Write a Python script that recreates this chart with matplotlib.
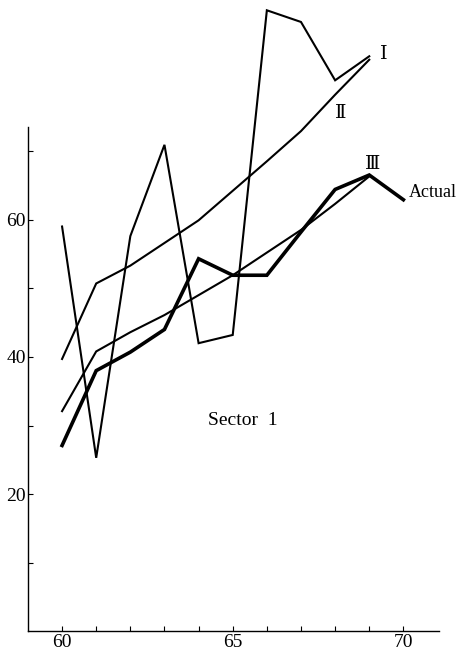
import matplotlib
matplotlib.use("Agg")
import matplotlib.pyplot as plt
from matplotlib.ticker import FixedLocator, NullFormatter

# Sector 1 projections vs. actual, by year
years = [60, 61, 62, 63, 64, 65, 66, 67, 68, 69]
proj_1 = [59.0, 25.3, 57.6, 70.9, 42.0, 43.2, 90.5, 88.8, 80.3, 83.8]
proj_2 = [39.7, 50.7, 53.3, 56.6, 59.9, 64.2, 68.5, 72.9, 78.2, 83.3]
proj_3 = [32.1, 40.8, 43.6, 46.1, 49.0, 51.9, 55.2, 58.5, 62.3, 66.3]
actual_years = [60, 61, 62, 63, 64, 65, 66, 67, 68, 69, 70]
actual = [27.1, 38.0, 40.7, 44.0, 54.3, 51.9, 51.9, 58.2, 64.4, 66.5, 62.9]

SERIF = ["Liberation Serif", "DejaVu Serif"]
ROMAN = ["DejaVu Serif", "Noto Sans CJK JP"]

fig = plt.figure(figsize=(4.58, 6.51), dpi=100)
ax = fig.add_axes([0.061, 0.030, 0.898, 0.970])
ax.set_xlim(59, 71.05)
ax.set_ylim(0, 92)

thin = dict(color="black", lw=1.5, solid_joinstyle="miter")
ax.plot(years, proj_1, **thin)
ax.plot(years, proj_2, **thin)
ax.plot(years, proj_3, **thin)
ax.plot(actual_years, actual, color="black", lw=2.6, solid_joinstyle="miter")

ax.text(69.3, 84.2, "Ⅰ", family=ROMAN, fontsize=14, va="center", ha="left")
ax.text(68.15, 75.6, "Ⅱ", family=ROMAN, fontsize=14, va="center", ha="center")
ax.text(69.1, 68.1, "Ⅲ", family=ROMAN, fontsize=14, va="center", ha="center")
ax.text(70.15, 64.0, "Actual", family=SERIF, fontsize=13, va="center", ha="left")
ax.text(65.3, 30.8, "Sector  1", family=SERIF, fontsize=14, va="center", ha="center")

for side in ("top", "right"):
    ax.spines[side].set_visible(False)
ax.spines["left"].set_bounds(0, 73.5)
ax.spines["left"].set_linewidth(1.0)
ax.spines["bottom"].set_linewidth(1.0)

ax.xaxis.set_major_locator(FixedLocator([60, 65, 70]))
ax.xaxis.set_minor_locator(FixedLocator([61, 62, 63, 64, 66, 67, 68, 69]))
ax.yaxis.set_major_locator(FixedLocator([20, 40, 60]))
ax.yaxis.set_minor_locator(FixedLocator([10, 30, 50, 70]))
ax.yaxis.set_minor_formatter(NullFormatter())
ax.tick_params(which="both", direction="in", length=3.5, width=0.8, pad=1.5,
               labelsize=14)
for lab in ax.get_xticklabels() + ax.get_yticklabels():
    lab.set_family(SERIF)

fig.savefig("out.png", dpi=100)
